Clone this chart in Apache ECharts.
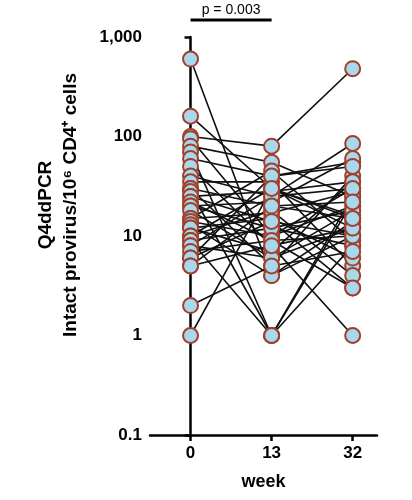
<!DOCTYPE html>
<html><head><meta charset="utf-8">
<script src="https://cdn.jsdelivr.net/npm/echarts@6/dist/echarts.min.js"></script>
<style>html,body{margin:0;background:#fff}#c{width:412px;height:500px}</style>
</head><body><div id="c"></div>
<script>
const weeks = ['0','13','32'];
const w0  = [600,160,100,95,80,70,60,50,40,35,30,30,28,25,25,22,20,20,18,15,15,14,13,12,12,10,10,9,9,8,8,7,6,6,5,5,2,1];
const w13 = [4,30,80,10,55,1,40,8,25,35,5,20,1,14,28,9,12,22,6,17,45,10,4,15,7,18,30,1,12,25,6,9,40,14,8,20,5,30];
const w32 = [10,12,480,30,25,8,55,1,85,5,40,15,22,10,35,3,18,60,12,28,9,20,14,6,35,4,16,25,8,30,18,10,50,3,12,22,7,15];
const yTicks = ['0.1','1','10','100','1,000'];
const font = 'Liberation Sans, Arial, sans-serif';
const chart = echarts.init(document.getElementById('c'));
const series = w0.map((v,i)=>({
  type:'line', data:[[0,v],[1,w13[i]],[2,w32[i]]],
  symbol:'circle', symbolSize:15,
  lineStyle:{color:'#111',width:1.6},
  itemStyle:{color:'#a9d8ec',borderColor:'#a0402c',borderWidth:2},
  emphasis:{disabled:true}, animation:false
}));
chart.setOption({
  animation:false,
  grid:{left:150,right:35,top:37,bottom:65},
  xAxis:{type:'value',min:-0.5,max:2.3,
    axisLine:{lineStyle:{color:'#000',width:2.5}},
    axisTick:{customValues:[0,1,2],length:6,lineStyle:{width:2.5,color:'#000'}},
    axisLabel:{customValues:[0,1,2],formatter:v=>weeks[Math.round(v)],color:'#000',fontSize:17,fontWeight:'bold',fontFamily:font,margin:10},
    splitLine:{show:false},
    name:'week',nameLocation:'middle',nameGap:38,nameTextStyle:{color:'#000',fontSize:18,fontWeight:'bold',fontFamily:font}},
  yAxis:{type:'log',logBase:10,min:0.1,max:1000,
    axisLine:{show:true,lineStyle:{color:'#000',width:2.5}},
    axisTick:{show:true,length:6,lineStyle:{width:2.5,color:'#000'}},
    minorTick:{show:false},
    axisLabel:{formatter:v=>yTicks[Math.round(Math.log10(v))+1],color:'#000',fontSize:17,fontWeight:'bold',fontFamily:font,margin:8},
    splitLine:{show:false}},
  series:series
});
const p0 = chart.convertToPixel({gridIndex:0},[0,1000]);
const p1 = chart.convertToPixel({gridIndex:0},[1,1000]);
chart.setOption({graphic:[
  {type:'line',shape:{x1:p0[0],y1:20,x2:p1[0],y2:20},style:{stroke:'#000',lineWidth:3}},
  {type:'text',x:(p0[0]+p1[0])/2,y:10,style:{text:'p = 0.003',fill:'#000',font:'14px '+font,align:'center',verticalAlign:'middle'}},
  {type:'text',x:46,y:205,rotation:Math.PI/2,style:{text:'Q4ddPCR',fill:'#000',font:'bold 19px '+font,align:'center',verticalAlign:'middle'}},
  {type:'text',x:71,y:205,rotation:Math.PI/2,style:{text:'Intact provirus/10⁶ CD4⁺ cells',fill:'#000',font:'bold 19px '+font,align:'center',verticalAlign:'middle'}}
]});
</script></body></html>
